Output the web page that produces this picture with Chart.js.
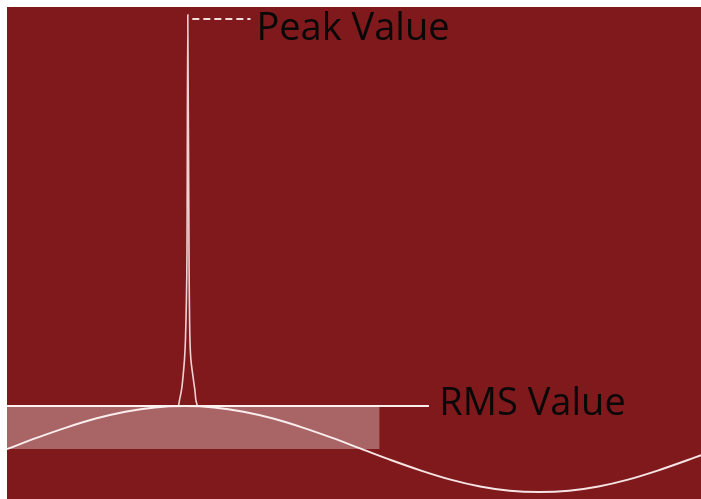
<!DOCTYPE html>
<html>
<head>
<meta charset="utf-8">
<script src="https://cdn.jsdelivr.net/npm/chart.js@4/dist/chart.umd.min.js"></script>
<style>
  html, body { margin: 0; padding: 0; background: #fff; }
  #wrap { position: absolute; left: 7px; top: 7px; width: 694px; height: 492px; background: #7f191c; }
</style>
</head>
<body>
<div id="wrap"><canvas id="chart"></canvas></div>
<script>
// phase in degrees, sine peak at 0
const sineDeg = [-90, -75, -60, -45, -30, -15, 0, 15, 30, 45, 60, 75, 90, 105, 120, 135, 150, 165, 180, 195, 210, 225, 240, 255, 262];
const sineVal = [0, 0.26, 0.5, 0.71, 0.87, 0.97, 1, 0.97, 0.87, 0.71, 0.5, 0.26, 0, -0.26, -0.5, -0.71, -0.87, -0.97, -1, -0.97, -0.87, -0.71, -0.5, -0.26, -0.14];

// the narrow spike sitting on the crest
const spikeDeg = [-3, -2.5, -1.5, -0.9, 0, 0.5, 1.0, 1.3, 1.7, 2.3, 2.5, 2.8, 3.3, 4.6, 5.3, 5.8, 6.6];
const spikeVal = [1.0, 1.14, 1.37, 1.6, 2.07, 2.53, 3.47, 4.6, 10.1, 4.6, 3.47, 2.53, 2.07, 1.6, 1.37, 1.14, 1.0];

const peakValue = 10;
const rmsValue = 1;
const rmsBandEnd = 99;     // shaded block right edge (deg)
const rmsLineEnd = 124;    // rms line right edge (deg)
const peakDashFrom = 4, peakDashTo = 33.5;

const labels = [
  { text: 'Peak Value', x: 36.5, y: 9.51 },
  { text: 'RMS Value', x: 129.3, y: 0.79 }
];

const pts = (xs, ys) => xs.map((x, i) => ({ x: x, y: ys[i] }));

const labelPlugin = {
  id: 'labels',
  afterDraw(chart) {
    const ctx = chart.ctx;
    const xs = chart.scales.x, ys = chart.scales.y;
    ctx.save();
    ctx.font = '38px "Open Sans"';
    ctx.fillStyle = '#080808';
    ctx.textBaseline = 'alphabetic';
    labels.forEach(l => ctx.fillText(l.text, xs.getPixelForValue(l.x), ys.getPixelForValue(l.y)));
    ctx.restore();
  }
};

function draw() {
  new Chart(document.getElementById('chart'), {
    type: 'line',
    data: {
      datasets: [
        {
          // shaded rms block
          data: [{ x: -90, y: rmsValue }, { x: rmsBandEnd, y: rmsValue }],
          borderWidth: 0,
          pointRadius: 0,
          fill: { value: 0 },
          backgroundColor: 'rgba(255,255,255,0.33)'
        },
        {
          data: [{ x: -90, y: rmsValue }, { x: rmsLineEnd, y: rmsValue }],
          borderColor: '#fbeeee',
          borderWidth: 2,
          pointRadius: 0
        },
        {
          data: pts(sineDeg, sineVal),
          borderColor: '#f6e4e4',
          borderWidth: 2,
          pointRadius: 0,
          cubicInterpolationMode: 'monotone'
        },
        {
          data: pts(spikeDeg, spikeVal),
          borderColor: '#efd3d3',
          borderWidth: 1.6,
          pointRadius: 0,
          tension: 0.3
        },
        {
          data: [{ x: peakDashFrom, y: peakValue }, { x: peakDashTo, y: peakValue }],
          borderColor: '#f3dede',
          borderWidth: 2,
          borderDash: [7, 4],
          pointRadius: 0
        }
      ]
    },
    options: {
      responsive: true,
      maintainAspectRatio: false,
      animation: false,
      layout: { padding: 0 },
      plugins: { legend: { display: false }, tooltip: { enabled: false } },
      scales: {
        x: { type: 'linear', min: -90, max: 262, display: false },
        y: { type: 'linear', min: -1.16, max: 10.28, display: false }
      }
    },
    plugins: [labelPlugin]
  });
}

document.fonts.load('38px "Open Sans"').then(draw, draw);
</script>
</body>
</html>
